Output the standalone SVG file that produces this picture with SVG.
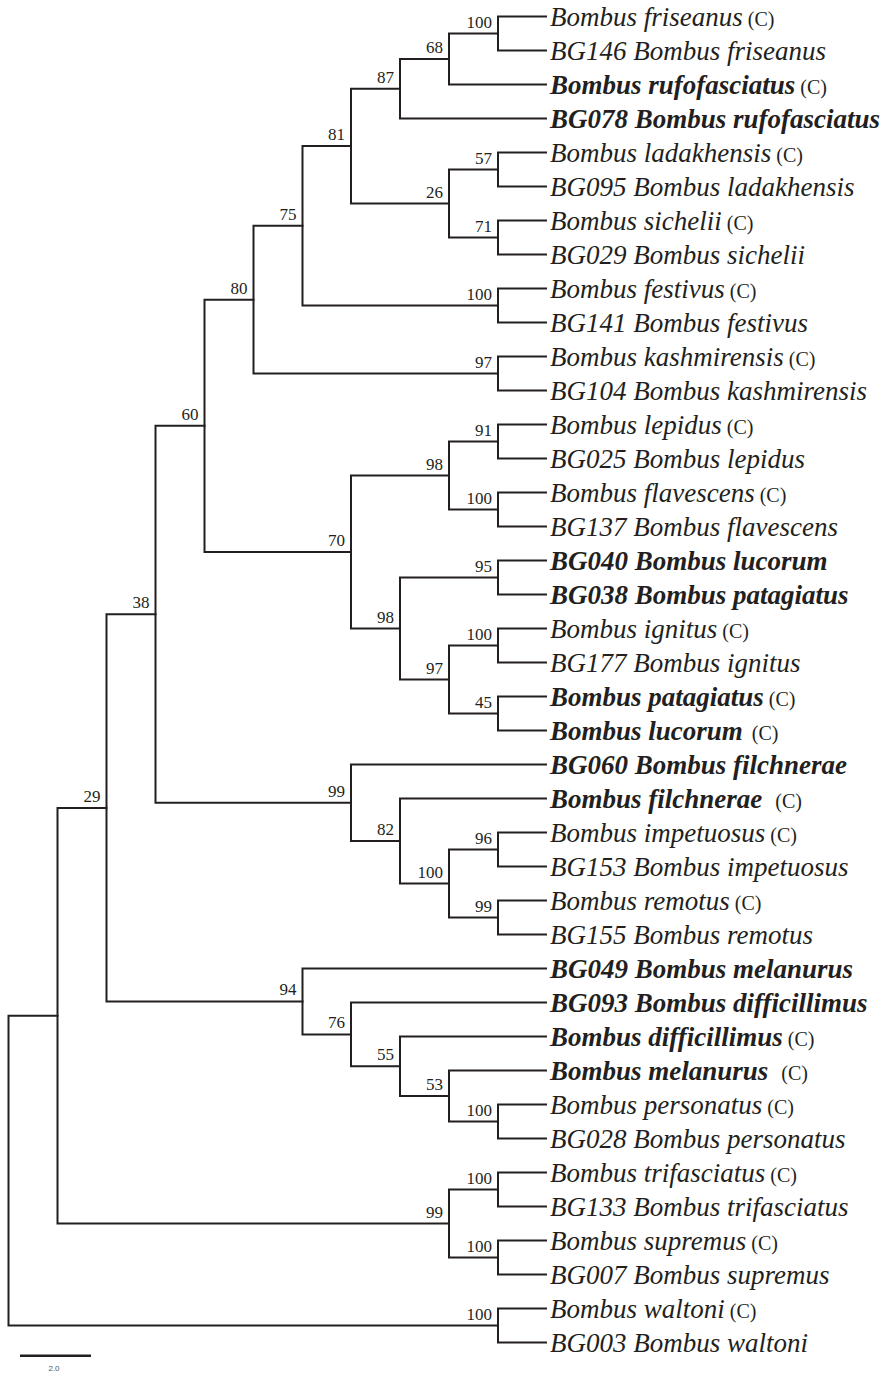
<svg xmlns="http://www.w3.org/2000/svg" width="884" height="1373" viewBox="0 0 884 1373">
<style>
.br{fill:none;stroke:#231f20;stroke-width:2;stroke-linecap:square;stroke-linejoin:miter}
.lf{font-family:"Liberation Serif","Times New Roman",serif;font-size:27px;font-style:italic;fill:#231f20}
.b{font-weight:bold}
.c{font-style:normal;font-weight:normal;font-size:20px}
.bs{font-family:"Liberation Serif","Times New Roman",serif;font-size:17px;fill:#231f20;text-anchor:end}
.sc{font-family:"Liberation Sans",Arial,sans-serif;font-size:8px;fill:#555;text-anchor:middle}
</style>
<rect width="884" height="1373" fill="#fff"/>
<g id="connectors">
<path class="br" d="M546 16.5H498V50.5H546"/>
<path class="br" d="M498 33.5H449V84.5H546"/>
<path class="br" d="M449 59H400V118.5H546"/>
<path class="br" d="M546 152.5H498V186.5H546"/>
<path class="br" d="M546 220.5H498V254.5H546"/>
<path class="br" d="M498 169.5H449V237.5H498"/>
<path class="br" d="M400 88.75H351V203.5H449"/>
<path class="br" d="M546 288.5H498V322.5H546"/>
<path class="br" d="M351 146.1H302.5V305.5H498"/>
<path class="br" d="M546 356.5H498V390.5H546"/>
<path class="br" d="M302.5 225.8H253.5V373.5H498"/>
<path class="br" d="M546 424.5H498V458.5H546"/>
<path class="br" d="M546 492.5H498V526.5H546"/>
<path class="br" d="M498 441.5H449V509.5H498"/>
<path class="br" d="M546 560.5H498V594.5H546"/>
<path class="br" d="M546 628.5H498V662.5H546"/>
<path class="br" d="M546 696.5H498V730.5H546"/>
<path class="br" d="M498 645.5H449V713.5H498"/>
<path class="br" d="M498 577.5H400V679.5H449"/>
<path class="br" d="M449 475.5H351V628.5H400"/>
<path class="br" d="M253.5 299.7H204.5V552H351"/>
<path class="br" d="M546 832.5H498V866.5H546"/>
<path class="br" d="M546 900.5H498V934.5H546"/>
<path class="br" d="M498 849.5H449V917.5H498"/>
<path class="br" d="M546 798.5H400V883.5H449"/>
<path class="br" d="M546 764.5H351V841H400"/>
<path class="br" d="M204.5 425.8H155.5V802.75H351"/>
<path class="br" d="M546 1104.5H498V1138.5H546"/>
<path class="br" d="M546 1070.5H449V1121.5H498"/>
<path class="br" d="M546 1036.5H400V1096H449"/>
<path class="br" d="M546 1002.5H351V1066.25H400"/>
<path class="br" d="M546 968.5H302.5V1034.4H351"/>
<path class="br" d="M155.5 614.3H106.5V1001.45H302.5"/>
<path class="br" d="M546 1172.5H498V1206.5H546"/>
<path class="br" d="M546 1240.5H498V1274.5H546"/>
<path class="br" d="M498 1189.5H449V1257.5H498"/>
<path class="br" d="M106.5 807.9H57.5V1223.5H449"/>
<path class="br" d="M546 1308.5H498V1342.5H546"/>
<path class="br" d="M57.5 1015.7H8.5V1325.5H498"/>
</g>
<g id="bootstrap">
<text class="bs" x="492" y="27.5">100</text>
<text class="bs" x="443" y="53">68</text>
<text class="bs" x="394" y="82.75">87</text>
<text class="bs" x="492" y="163.5">57</text>
<text class="bs" x="492" y="231.5">71</text>
<text class="bs" x="443" y="197.5">26</text>
<text class="bs" x="345" y="140.1">81</text>
<text class="bs" x="492" y="299.5">100</text>
<text class="bs" x="296.5" y="219.8">75</text>
<text class="bs" x="492" y="367.5">97</text>
<text class="bs" x="247.5" y="293.7">80</text>
<text class="bs" x="492" y="435.5">91</text>
<text class="bs" x="492" y="503.5">100</text>
<text class="bs" x="443" y="469.5">98</text>
<text class="bs" x="492" y="571.5">95</text>
<text class="bs" x="492" y="639.5">100</text>
<text class="bs" x="492" y="707.5">45</text>
<text class="bs" x="443" y="673.5">97</text>
<text class="bs" x="394" y="622.5">98</text>
<text class="bs" x="345" y="546">70</text>
<text class="bs" x="198.5" y="419.8">60</text>
<text class="bs" x="492" y="843.5">96</text>
<text class="bs" x="492" y="911.5">99</text>
<text class="bs" x="443" y="877.5">100</text>
<text class="bs" x="394" y="835">82</text>
<text class="bs" x="345" y="796.75">99</text>
<text class="bs" x="149.5" y="608.3">38</text>
<text class="bs" x="492" y="1115.5">100</text>
<text class="bs" x="443" y="1090">53</text>
<text class="bs" x="394" y="1060.25">55</text>
<text class="bs" x="345" y="1028.4">76</text>
<text class="bs" x="296.5" y="995.45">94</text>
<text class="bs" x="100.5" y="801.9">29</text>
<text class="bs" x="492" y="1183.5">100</text>
<text class="bs" x="492" y="1251.5">100</text>
<text class="bs" x="443" y="1217.5">99</text>
<text class="bs" x="492" y="1319.5">100</text>
</g>
<g id="leaf-friseanus-C"><text class="lf" x="550" y="25.5">Bombus friseanus<tspan class="c"> (C)</tspan></text></g>
<g id="leaf-BG146"><text class="lf" x="550" y="59.5">BG146 Bombus friseanus</text></g>
<g id="leaf-rufofasciatus-C"><text class="lf b" x="550" y="93.5">Bombus rufofasciatus<tspan class="c"> (C)</tspan></text></g>
<g id="leaf-BG078"><text class="lf b" x="550" y="127.5">BG078 Bombus rufofasciatus</text></g>
<g id="leaf-ladakhensis-C"><text class="lf" x="550" y="161.5">Bombus ladakhensis<tspan class="c"> (C)</tspan></text></g>
<g id="leaf-BG095"><text class="lf" x="550" y="195.5">BG095 Bombus ladakhensis</text></g>
<g id="leaf-sichelii-C"><text class="lf" x="550" y="229.5">Bombus sichelii<tspan class="c"> (C)</tspan></text></g>
<g id="leaf-BG029"><text class="lf" x="550" y="263.5">BG029 Bombus sichelii</text></g>
<g id="leaf-festivus-C"><text class="lf" x="550" y="297.5">Bombus festivus<tspan class="c"> (C)</tspan></text></g>
<g id="leaf-BG141"><text class="lf" x="550" y="331.5">BG141 Bombus festivus</text></g>
<g id="leaf-kashmirensis-C"><text class="lf" x="550" y="365.5">Bombus kashmirensis<tspan class="c"> (C)</tspan></text></g>
<g id="leaf-BG104"><text class="lf" x="550" y="399.5">BG104 Bombus kashmirensis</text></g>
<g id="leaf-lepidus-C"><text class="lf" x="550" y="433.5">Bombus lepidus<tspan class="c"> (C)</tspan></text></g>
<g id="leaf-BG025"><text class="lf" x="550" y="467.5">BG025 Bombus lepidus</text></g>
<g id="leaf-flavescens-C"><text class="lf" x="550" y="501.5">Bombus flavescens<tspan class="c"> (C)</tspan></text></g>
<g id="leaf-BG137"><text class="lf" x="550" y="535.5">BG137 Bombus flavescens</text></g>
<g id="leaf-BG040"><text class="lf b" x="550" y="569.5">BG040 Bombus lucorum</text></g>
<g id="leaf-BG038"><text class="lf b" x="550" y="603.5">BG038 Bombus patagiatus</text></g>
<g id="leaf-ignitus-C"><text class="lf" x="550" y="637.5">Bombus ignitus<tspan class="c"> (C)</tspan></text></g>
<g id="leaf-BG177"><text class="lf" x="550" y="671.5">BG177 Bombus ignitus</text></g>
<g id="leaf-patagiatus-C"><text class="lf b" x="550" y="705.5">Bombus patagiatus<tspan class="c"> (C)</tspan></text></g>
<g id="leaf-lucorum-C"><text class="lf b" x="550" y="739.5">Bombus lucorum<tspan class="c" dx="4"> (C)</tspan></text></g>
<g id="leaf-BG060"><text class="lf b" x="550" y="773.5">BG060 Bombus filchnerae</text></g>
<g id="leaf-filchnerae-C"><text class="lf b" x="550" y="807.5">Bombus filchnerae<tspan class="c" dx="8"> (C)</tspan></text></g>
<g id="leaf-impetuosus-C"><text class="lf" x="550" y="841.5">Bombus impetuosus<tspan class="c"> (C)</tspan></text></g>
<g id="leaf-BG153"><text class="lf" x="550" y="875.5">BG153 Bombus impetuosus</text></g>
<g id="leaf-remotus-C"><text class="lf" x="550" y="909.5">Bombus remotus<tspan class="c"> (C)</tspan></text></g>
<g id="leaf-BG155"><text class="lf" x="550" y="943.5">BG155 Bombus remotus</text></g>
<g id="leaf-BG049"><text class="lf b" x="550" y="977.5">BG049 Bombus melanurus</text></g>
<g id="leaf-BG093"><text class="lf b" x="550" y="1011.5">BG093 Bombus difficillimus</text></g>
<g id="leaf-difficillimus-C"><text class="lf b" x="550" y="1045.5">Bombus difficillimus<tspan class="c"> (C)</tspan></text></g>
<g id="leaf-melanurus-C"><text class="lf b" x="550" y="1079.5">Bombus melanurus<tspan class="c" dx="8"> (C)</tspan></text></g>
<g id="leaf-personatus-C"><text class="lf" x="550" y="1113.5">Bombus personatus<tspan class="c"> (C)</tspan></text></g>
<g id="leaf-BG028"><text class="lf" x="550" y="1147.5">BG028 Bombus personatus</text></g>
<g id="leaf-trifasciatus-C"><text class="lf" x="550" y="1181.5">Bombus trifasciatus<tspan class="c"> (C)</tspan></text></g>
<g id="leaf-BG133"><text class="lf" x="550" y="1215.5">BG133 Bombus trifasciatus</text></g>
<g id="leaf-supremus-C"><text class="lf" x="550" y="1249.5">Bombus supremus<tspan class="c"> (C)</tspan></text></g>
<g id="leaf-BG007"><text class="lf" x="550" y="1283.5">BG007 Bombus supremus</text></g>
<g id="leaf-waltoni-C"><text class="lf" x="550" y="1317.5">Bombus waltoni<tspan class="c"> (C)</tspan></text></g>
<g id="leaf-BG003"><text class="lf" x="550" y="1351.5">BG003 Bombus waltoni</text></g>
<g id="scale-bar">
<line x1="20" y1="1355.7" x2="91" y2="1355.7" stroke="#231f20" stroke-width="2.5"/>
<text class="sc" x="54" y="1371">2.0</text>
</g>
</svg>
